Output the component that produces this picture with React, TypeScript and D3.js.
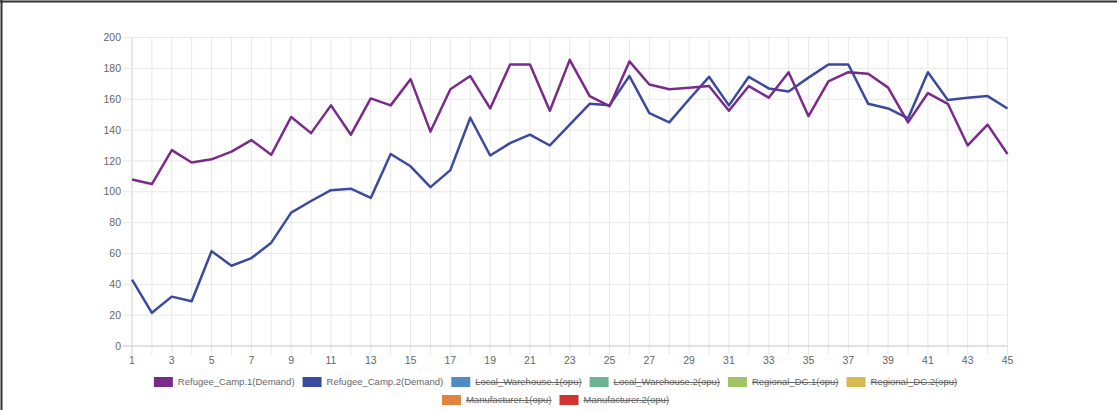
import React from "react";
import * as d3 from "d3";

const xValues: number[] = Array.from({ length: 45 }, (_, i) => i + 1);
const yTicks: number[] = [0, 20, 40, 60, 80, 100, 120, 140, 160, 180, 200];

const camp1: number[] = [
  108, 105, 127, 119, 121, 126, 133.5, 124, 148.5, 138,
  156, 137, 160.5, 156, 173, 139, 166.5, 175, 154, 182.5,
  182.5, 152.5, 185.5, 162, 155.5, 184.5, 169.5, 166.5, 167.5, 168.5,
  152.5, 168.5, 161, 177.5, 149, 171.5, 177.5, 176.5, 167.5, 145,
  164, 157, 130, 143.5, 124.5,
];
const camp2: number[] = [
  43, 21.5, 32, 29, 61.5, 52, 57, 67, 86.5, 94,
  101, 102, 96, 124.5, 116.5, 103, 114, 148, 123.5, 131.5,
  137, 130, 143.5, 157, 156, 175, 151, 145, 160, 174.5,
  156, 174.5, 167, 165, 174, 182.5, 182.5, 157, 154, 147.5,
  177.5, 159.5, 161, 162, 154,
];

const seriesNames: string[] = [
  "Refugee_Camp.1(Demand)",
  "Refugee_Camp.2(Demand)",
  "Local_Warehouse.1(opu)",
  "Local_Warehouse.2(opu)",
  "Regional_DC.1(opu)",
  "Regional_DC.2(opu)",
  "Manufacturer.1(opu)",
  "Manufacturer.2(opu)",
];
const seriesColors: string[] = [
  "#7a2a89", "#3b4a9e", "#4f8bc6", "#6db592", "#a0c466", "#d6b94f", "#e0843d", "#cf3430",
];
const hidden: boolean[] = [false, false, true, true, true, true, true, true];
const legendRows: number[][] = [[0, 1, 2, 3, 4, 5], [6, 7]];

const W = 1117, H = 410;
const left = 132, right = 1007.5, top = 37.5, bottom = 346;
const FONT = "'Liberation Sans', Arial, Helvetica, sans-serif";

function measure(text: string, size: number): number {
  if (typeof document === "undefined") return text.length * size * 0.55;
  const c = document.createElement("canvas");
  const ctx = c.getContext("2d")!;
  ctx.font = `${size}px 'Liberation Sans', Arial, sans-serif`;
  return ctx.measureText(text).width;
}

export default function App() {
  const x = d3.scaleLinear().domain([1, 45]).range([left, right]);
  const y = d3.scaleLinear().domain([0, 200]).range([bottom, top]);
  const line = d3.line<number>().x((_, i) => x(xValues[i])).y((d) => y(d));

  const legendFont = 9.5;
  const boxW = 19, boxH = 10, gapBT = 5, gapItem = 8;
  const centerX = 555.5;
  const rowY = [382, 400];

  const legendEls: React.ReactNode[] = [];
  legendRows.forEach((row, ri) => {
    const widths = row.map((i) => boxW + gapBT + measure(seriesNames[i], legendFont));
    const total = widths.reduce((a, b) => a + b, 0) + gapItem * (row.length - 1);
    let cx = centerX - total / 2;
    row.forEach((i, k) => {
      const tw = widths[k] - boxW - gapBT;
      const yy = rowY[ri];
      legendEls.push(
        <g key={`lg${i}`}>
          <rect x={cx} y={yy - boxH / 2} width={boxW} height={boxH} fill={seriesColors[i]} />
          <text x={cx + boxW + gapBT} y={yy} dy="0.35em" fontSize={legendFont} fill="#666" fontFamily={FONT}>
            {seriesNames[i]}
          </text>
          {hidden[i] && (
            <line x1={cx + boxW + gapBT} x2={cx + boxW + gapBT + tw} y1={yy + 0.5} y2={yy + 0.5} stroke="#666" strokeWidth={1} />
          )}
        </g>
      );
      cx += widths[k] + gapItem;
    });
  });

  return (
    <svg width={W} height={H} style={{ position: "absolute", left: 0, top: 0, background: "#fff" }}>
      <rect x={0} y={0} width={W} height={H} fill="#fff" />
      {/* grid */}
      {xValues.map((v) => (
        <line key={`vx${v}`} x1={x(v)} x2={x(v)} y1={top} y2={bottom + 9} stroke={v === 1 ? "#cfcfcf" : "#e8e8e8"} strokeWidth={1} />
      ))}
      {yTicks.map((v) => (
        <line key={`hy${v}`} x1={left - 9} x2={right} y1={y(v)} y2={y(v)} stroke={v === 0 ? "#c4c4c4" : "#e8e8e8"} strokeWidth={1} />
      ))}
      {yTicks.map((v) => (
        <text key={`yl${v}`} x={left - 11} y={y(v)} dy="0.35em" textAnchor="end" fontSize={10.5} fill="#666" fontFamily={FONT}>
          {v}
        </text>
      ))}
      {xValues.filter((v) => v % 2 === 1).map((v) => (
        <text key={`xl${v}`} x={x(v)} y={360} dy="0.35em" textAnchor="middle" fontSize={10.5} fill="#666" fontFamily={FONT}>
          {v}
        </text>
      ))}
      {/* lines */}
      <path d={line(camp2) || ""} fill="none" stroke={seriesColors[1]} strokeWidth={2.5} strokeLinejoin="round" />
      <path d={line(camp1) || ""} fill="none" stroke={seriesColors[0]} strokeWidth={2.5} strokeLinejoin="round" />
      {legendEls}
      {/* frame */}
      <line x1={0} x2={W} y1={1.5} y2={1.5} stroke="#333" strokeWidth={2} />
      <line x1={1.5} x2={1.5} y1={0} y2={H} stroke="#333" strokeWidth={2} />
    </svg>
  );
}
